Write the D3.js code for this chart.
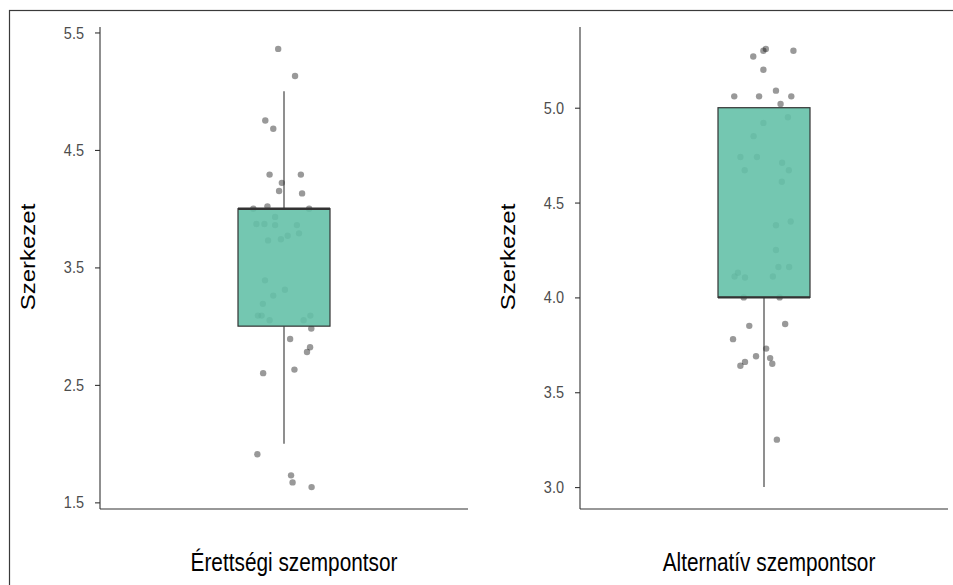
<!DOCTYPE html>
<html>
<head>
<meta charset="utf-8">
<script src="https://cdn.jsdelivr.net/npm/d3@7/dist/d3.min.js"></script>
<style>
  html, body { margin: 0; padding: 0; background: #ffffff; }
  svg { display: block; }
</style>
</head>
<body>
<svg id="chart" width="953" height="585"></svg>
<script>
// Two boxplots of "Szerkezet" scores, one per assessment rubric, with jittered raw points.
const categories = ["Érettségi szempontsor", "Alternatív szempontsor"];
const yTitle = "Szerkezet";

// Box statistics per rubric
const boxQ1 = [3.0, 4.0];
const boxMedian = [4.0, 4.0];
const boxQ3 = [4.0, 5.0];
const whiskerLow = [2.0, 3.0];
const whiskerHigh = [5.0, 5.0];

// Y-axis ticks per panel
const ticksErettsegi = [1.5, 2.5, 3.5, 4.5, 5.5];
const ticksAlternativ = [3.0, 3.5, 4.0, 4.5, 5.0];

// Jittered observations (value) and their horizontal jitter (in category units)
const pointsErettsegi = [
  5.36, 5.13, 4.75, 4.68, 4.29, 4.29, 4.22, 4.15, 4.13, 4.02,
  4.00, 4.00, 3.93, 3.87, 3.87, 3.86, 3.86, 3.79, 3.77, 3.74,
  3.73, 3.39, 3.31, 3.26, 3.19, 3.09, 3.09, 3.05, 3.09, 3.05,
  2.98, 2.89, 2.82, 2.78, 2.63, 2.60, 1.91, 1.73, 1.67, 1.63
];
const jitterErettsegi = [
  -0.019, 0.036, -0.061, -0.035, -0.047, 0.055, -0.007, -0.016, 0.059, -0.054,
  -0.100, 0.082, -0.029, -0.090, -0.064, -0.029, 0.042, 0.049, 0.012, -0.010,
  -0.052, -0.062, 0.003, -0.035, -0.069, -0.085, -0.073, -0.047, 0.086, 0.064,
  0.089, 0.020, 0.085, 0.075, 0.034, -0.068, -0.087, 0.023, 0.028, 0.090
];
const pointsAlternativ = [
  5.31, 5.30, 5.30, 5.27, 5.20, 5.09, 5.06, 5.06, 5.06, 5.02,
  4.95, 4.92, 4.85, 4.74, 4.74, 4.71, 4.67, 4.67, 4.61, 4.38,
  4.40, 4.25, 4.16, 4.16, 4.13, 4.11, 4.105, 4.11, 4.00, 4.00,
  3.85, 3.86, 3.78, 3.73, 3.69, 3.68, 3.66, 3.64, 3.65, 3.25
];
const jitterAlternativ = [
  0.006, -0.002, 0.096, -0.035, -0.002, 0.039, -0.097, -0.016, 0.089, 0.054,
  0.078, -0.002, -0.034, -0.077, -0.023, 0.059, -0.063, 0.081, 0.058, 0.039,
  0.087, 0.039, 0.047, 0.082, -0.085, -0.096, -0.062, 0.029, -0.066, 0.051,
  -0.048, 0.069, -0.101, 0.007, -0.026, 0.020, -0.062, -0.077, 0.027, 0.042
];

const panels = [
  { name: categories[0], values: pointsErettsegi, jitter: jitterErettsegi, ticks: ticksErettsegi, i: 0 },
  { name: categories[1], values: pointsAlternativ, jitter: jitterAlternativ, ticks: ticksAlternativ, i: 1 }
];

// Layout
const svg = d3.select("#chart");
const FONT = "'Liberation Sans', Arial, Helvetica, sans-serif";
const panelLeft = [100, 580];
const panelWidth = 368;
const panelTop = 27;
const panelBottom = 509;
const boxWidth = 0.3;
const fillColor = "#65c1a9";
const lineColor = "#333333";
const textStretch = 1.2; // glyphs are drawn slightly taller than wide

// Outer frame
svg.append("rect")
  .attr("x", 9.5).attr("y", 10.5)
  .attr("width", 980).attr("height", 620)
  .attr("fill", "none")
  .attr("stroke", "#3a3a3a")
  .attr("stroke-width", 1.2);

panels.forEach(p => {
  const i = p.i;
  const g = svg.append("g");

  // Discrete x position 1 with ggplot-style 0.6 expansion on each side
  const x = d3.scaleLinear().domain([0.4, 1.6]).range([panelLeft[i], panelLeft[i] + panelWidth]);

  const lo = Math.min(d3.min(p.values), whiskerLow[i]);
  const hi = Math.max(d3.max(p.values), whiskerHigh[i]);
  const pad = (hi - lo) * 0.05;
  const y = d3.scaleLinear().domain([lo - pad, hi + pad]).range([panelBottom, panelTop]);

  // Jittered points (drawn beneath the box)
  g.append("g").selectAll("circle")
    .data(p.values)
    .join("circle")
    .attr("cx", (d, k) => x(1 + p.jitter[k]))
    .attr("cy", d => y(d))
    .attr("r", 3.2)
    .attr("fill", "#000000")
    .attr("fill-opacity", 0.4);

  // Whiskers
  g.append("line")
    .attr("x1", x(1)).attr("x2", x(1))
    .attr("y1", y(whiskerLow[i])).attr("y2", y(boxQ1[i]))
    .attr("stroke", lineColor).attr("stroke-width", 1.1);
  g.append("line")
    .attr("x1", x(1)).attr("x2", x(1))
    .attr("y1", y(boxQ3[i])).attr("y2", y(whiskerHigh[i]))
    .attr("stroke", lineColor).attr("stroke-width", 1.1);

  // Box
  g.append("rect")
    .attr("x", x(1 - boxWidth / 2))
    .attr("width", x(1 + boxWidth / 2) - x(1 - boxWidth / 2))
    .attr("y", y(boxQ3[i]))
    .attr("height", y(boxQ1[i]) - y(boxQ3[i]))
    .attr("fill", fillColor)
    .attr("fill-opacity", 0.9)
    .attr("stroke", lineColor)
    .attr("stroke-width", 1.2);

  // Median
  g.append("line")
    .attr("x1", x(1 - boxWidth / 2)).attr("x2", x(1 + boxWidth / 2))
    .attr("y1", y(boxMedian[i])).attr("y2", y(boxMedian[i]))
    .attr("stroke", lineColor).attr("stroke-width", 2.4);

  // Y axis
  const yAxis = g.append("g")
    .attr("transform", `translate(${panelLeft[i]},0)`)
    .call(d3.axisLeft(y).tickValues(p.ticks).tickFormat(d3.format(".1f")).tickSize(5).tickPadding(11));
  yAxis.select(".domain")
    .attr("d", `M0,${panelTop}V${panelBottom}`)
    .attr("stroke", lineColor).attr("stroke-width", 1.1);
  yAxis.selectAll(".tick line").attr("stroke", lineColor).attr("stroke-width", 1.1);
  yAxis.selectAll(".tick text")
    .attr("fill", "#4d4d4d")
    .attr("transform", `scale(1,${textStretch})`)
    .style("font-family", FONT)
    .style("font-size", "14.5px");

  // X title
  g.append("line")
    .attr("x1", panelLeft[i]).attr("x2", panelLeft[i] + panelWidth)
    .attr("y1", panelBottom).attr("y2", panelBottom)
    .attr("stroke", lineColor).attr("stroke-width", 1.1);

  g.append("text")
    .attr("transform", `translate(${x(1) + (i === 0 ? 10 : 5)},571) scale(1,${textStretch})`)
    .attr("text-anchor", "middle")
    .attr("fill", "#000000")
    .style("font-family", FONT)
    .style("font-size", "20.8px")
    .text(p.name);

  // Y title
  const tx = panelLeft[i] - 65;
  g.append("text")
    .attr("transform", `translate(${tx},257) rotate(-90) scale(${textStretch},1)`)
    .attr("text-anchor", "middle")
    .attr("fill", "#000000")
    .style("font-family", FONT)
    .style("font-size", "20px")
    .text(yTitle);
});
</script>
</body>
</html>
